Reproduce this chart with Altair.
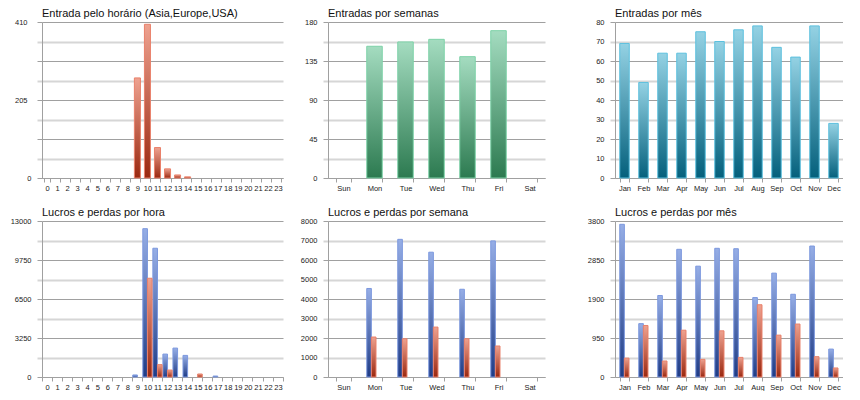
import altair as alt
import pandas as pd

# ---------------- data ----------------
horas = ["0", "1", "2", "3", "4", "5", "6", "7", "8", "9", "10", "11",
         "12", "13", "14", "15", "16", "17", "18", "19", "20", "21", "22", "23"]
entradas_hora = [0, 0, 0, 0, 0, 0, 0, 0, 0, 263, 404, 80,
                 24, 8, 3, 0, 0, 0, 0, 0, 0, 0, 0, 0]

dias = ["Sun", "Mon", "Tue", "Wed", "Thu", "Fri", "Sat"]
entradas_semana = [0, 152, 157, 160, 140, 170, 0]

meses = ["Jan", "Feb", "Mar", "Apr", "May", "Jun", "Jul", "Aug", "Sep", "Oct", "Nov", "Dec"]
entradas_mes = [69, 49, 64, 64, 75, 70, 76, 78, 67, 62, 78, 28]

lucros_hora = [0, 0, 0, 0, 0, 0, 0, 0, 0, 170, 12360, 10730,
               1910, 2410, 1800, 0, 0, 80, 0, 0, 0, 0, 0, 0]
perdas_hora = [0, 0, 0, 0, 0, 0, 0, 0, 0, 0, 8230, 1030,
               580, 0, 0, 250, 0, 0, 0, 0, 0, 0, 0, 0]

lucros_semana = [0, 4540, 7060, 6400, 4500, 6980, 0]
perdas_semana = [0, 2050, 1960, 2560, 1960, 1590, 0]

lucros_mes = [3720, 1300, 1985, 3110, 2700, 3135, 3125, 1935, 2530, 2015, 3190, 680]
perdas_mes = [460, 1255, 390, 1140, 430, 1125, 478, 1760, 1020, 1290, 495, 220]

series = ["Lucros", "Perdas"]

# ---------------- styling ----------------
FONT = "Liberation Sans"
GRID_DARK = "#a0a0a0"
GRID_LIGHT = "#d6d6d6"
PLOT_H = 156


def grad(top, bottom):
    return alt.Gradient(
        gradient="linear", x1=0, y1=0, x2=0, y2=1,
        stops=[alt.GradientStop(color=top, offset=0),
               alt.GradientStop(color=bottom, offset=1)],
    )


RED = dict(fill=grad("#eea290", "#9a2810"), stroke="#e9806a")
GREEN = dict(fill=grad("#a4dcc0", "#2c7a50"), stroke="#7ed2a8")
TEAL = dict(fill=grad("#94d2e4", "#04607c"), stroke="#5cc0de")
BLUE = dict(fill=grad("#96aee6", "#1f3c86"), stroke="#7c98de")


def y_axis(step, label_every, big_pad=None):
    vals = [step * i for i in range(9)]
    dark = f"round(datum.value / {step}) % 2 === 0"
    show = f"round(datum.value / {step}) % {label_every} === 0"
    if big_pad is None:
        lpad = 6
    else:
        lpad = {"condition": {"test": "datum.value > 0", "value": big_pad}, "value": 6}
    return alt.Axis(
        values=vals, format="d", title=None,
        labelExpr=f"({show}) ? datum.label : ''",
        grid=True,
        gridColor={"condition": {"test": dark, "value": GRID_DARK}, "value": GRID_LIGHT},
        gridWidth={"condition": {"test": dark, "value": 1}, "value": 2},
        ticks=True, tickSize=5,
        tickColor={"condition": {"test": dark, "value": GRID_DARK}, "value": GRID_LIGHT},
        tickWidth={"condition": {"test": dark, "value": 1}, "value": 2},
        domain=True, domainColor=GRID_DARK,
        labelPadding=lpad, labelFont=FONT, labelFontSize=7.5, labelColor="#222222",
    )


def x_axis():
    return alt.Axis(
        title=None, labelAngle=0, tickBand="extent", ticks=True, tickSize=4,
        tickColor=GRID_DARK, domain=True, domainColor=GRID_DARK, grid=False,
        labelPadding=2, labelFont=FONT, labelFontSize=7.5, labelColor="#222222",
        labelOverlap=False,
    )


def title(text):
    return alt.TitleParams(text=text, anchor="start", frame="group", font=FONT,
                           fontSize=11, fontWeight="normal", color="#111111",
                           baseline="alphabetic", offset=-10)


def single(cats, vals, style, width, step, label_every, pin, ttl, big_pad=None):
    df = pd.DataFrame({"cat": cats, "v": vals})
    return alt.Chart(df).transform_filter("datum.v > 0").mark_bar(
        strokeWidth=1, **style
    ).encode(
        x=alt.X("cat:N", sort=cats,
                scale=alt.Scale(domain=cats, paddingInner=pin, paddingOuter=pin / 2),
                axis=x_axis()),
        y=alt.Y("v:Q", scale=alt.Scale(domain=[0, step * 8], nice=False),
                axis=y_axis(step, label_every, big_pad)),
    ).properties(width=width, height=PLOT_H, title=title(ttl))


def grouped(cats, lucros, perdas, width, step, label_every, pin, ttl):
    n = len(cats)
    df = pd.DataFrame({"cat": cats * 2,
                       "serie": [series[0]] * n + [series[1]] * n,
                       "v": lucros + perdas})
    base = alt.Chart(df).encode(
        x=alt.X("cat:N", sort=cats,
                scale=alt.Scale(domain=cats, paddingInner=pin, paddingOuter=pin / 2),
                axis=x_axis()),
        xOffset=alt.XOffset("serie:N", sort=series,
                            scale=alt.Scale(domain=series, paddingInner=0, paddingOuter=0)),
        y=alt.Y("v:Q", scale=alt.Scale(domain=[0, step * 8], nice=False),
                axis=y_axis(step, label_every)),
    )
    blue = base.transform_filter(f"datum.serie === '{series[0]}' && datum.v > 0").mark_bar(
        strokeWidth=1, **BLUE)
    red = base.transform_filter(f"datum.serie === '{series[1]}' && datum.v > 0").mark_bar(
        strokeWidth=1, **RED)
    return alt.layer(blue, red).properties(width=width, height=PLOT_H, title=title(ttl))


p1 = single(horas, entradas_hora, RED, 241, 51.25, 4, 0.4,
            "Entrada pelo horário (Asia,Europe,USA)", big_pad=10)
p2 = single(dias, entradas_semana, GREEN, 217, 22.5, 2, 0.5, "Entradas por semanas")
p3 = single(meses, entradas_mes, TEAL, 228, 10, 1, 0.5, "Entradas por mês")

p4 = grouped(horas, lucros_hora, perdas_hora, 241, 1625, 2, 0.08, "Lucros e perdas por hora")
p5 = grouped(dias, lucros_semana, perdas_semana, 217, 1000, 1, 0.5, "Lucros e perdas por semana")
p6 = grouped(meses, lucros_mes, perdas_mes, 228, 475, 2, 0.5, "Lucros e perdas por mês")

top = alt.hconcat(p1, alt.hconcat(p2, p3, spacing=70, bounds="flush"),
                  spacing=45, bounds="flush")
bottom = alt.hconcat(p4, alt.hconcat(p5, p6, spacing=70, bounds="flush"),
                     spacing=45, bounds="flush")

chart = alt.vconcat(top, bottom, spacing=15).properties(
    padding={"left": 2, "top": 0, "right": 0, "bottom": 0},
    background="white",
).configure_view(stroke=None)

chart.save("out.html", embed_options={"renderer": "svg", "actions": False})
